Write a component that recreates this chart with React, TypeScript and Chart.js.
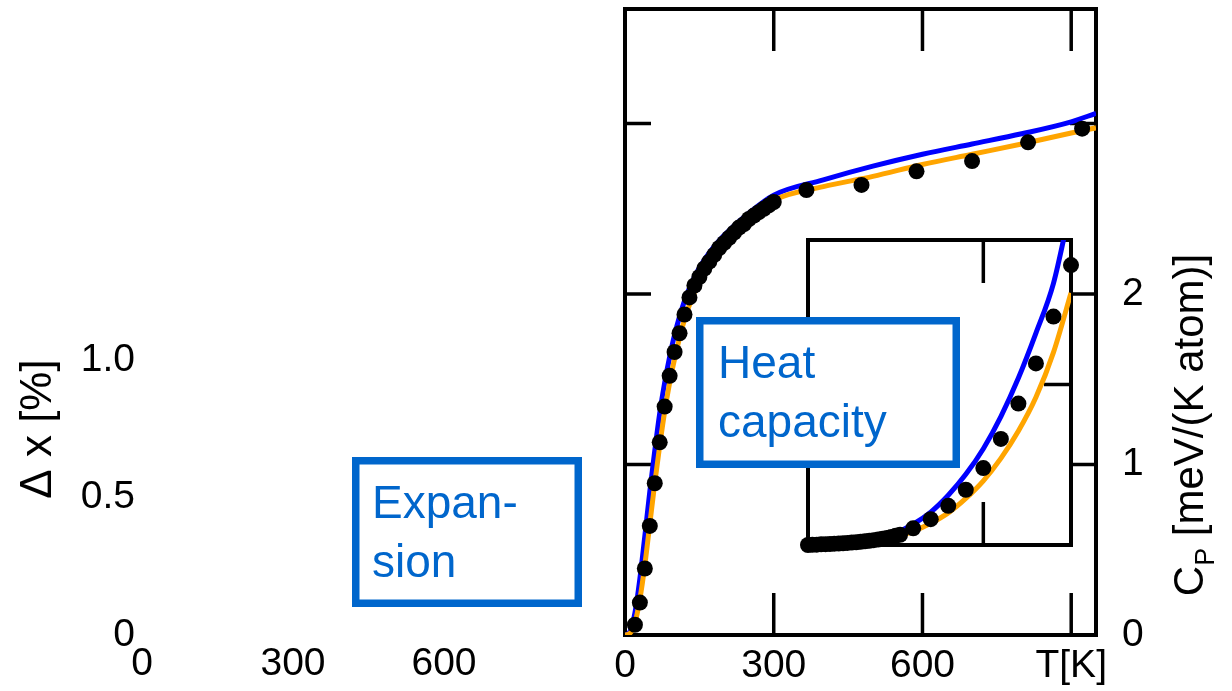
import React, { useEffect, useRef } from "react";
import { Chart, registerables } from "chart.js";

Chart.register(...registerables);

const W = 1232;
const H = 691;
const FONT = "'Liberation Sans', Arial, sans-serif";
const BOX_BLUE = "#0066CC";

// ---------------- Expansion panel (only its axis labels are shown) ----------------
const expansionXTicks = [0, 300, 600];
const expansionXLabels = ["0", "300", "600"];
const expansionYTicks = [0, 0.5, 1.0];
const expansionYLabels = ["0", "0.5", "1.0"];
const expansionTitle = "\u0394 x [%]";
const expansionBoxLines = ["Expan-", "sion"];

// ---------------- Heat capacity main panel ----------------
const heatXTicks = [0, 300, 600, 900];
const heatXLabels = ["0", "300", "600", "T[K]"];
const heatYTicks = [0, 1, 2, 3];
const heatYLabels = ["0", "1", "2", ""];
const heatBoxLines = ["Heat", "capacity"];

const measuredT = [20, 30, 40, 50, 60, 70, 80, 90, 100, 110, 120, 130, 140, 150, 160, 170, 180, 190, 200, 210, 220, 230, 240, 250, 260, 270, 280, 290, 300, 366, 477, 588, 700, 813, 922];
const measuredCp = [0.06, 0.19, 0.39, 0.64, 0.89, 1.13, 1.34, 1.52, 1.66, 1.77, 1.88, 1.98, 2.05, 2.10, 2.15, 2.19, 2.23, 2.27, 2.30, 2.33, 2.36, 2.39, 2.41, 2.44, 2.46, 2.48, 2.50, 2.52, 2.54, 2.61, 2.64, 2.72, 2.78, 2.89, 2.97];

const blueT = [0, 10, 20, 30, 40, 50, 60, 70, 80, 90, 100, 120, 140, 160, 180, 200, 250, 300, 400, 500, 600, 700, 800, 900, 950];
const blueCp = [0, 0.02, 0.13, 0.33, 0.58, 0.84, 1.08, 1.30, 1.48, 1.63, 1.76, 1.96, 2.10, 2.20, 2.28, 2.345, 2.475, 2.58, 2.67, 2.75, 2.82, 2.88, 2.94, 3.01, 3.06];

const orangeT = [0, 10, 20, 30, 40, 50, 60, 70, 80, 90, 100, 120, 140, 160, 180, 200, 250, 300, 400, 500, 600, 700, 800, 900, 950];
const orangeCp = [0, 0.01, 0.07, 0.21, 0.41, 0.65, 0.89, 1.11, 1.31, 1.48, 1.62, 1.85, 2.01, 2.13, 2.22, 2.30, 2.44, 2.55, 2.63, 2.69, 2.76, 2.82, 2.88, 2.945, 2.975];

const cpTitleMain = "C";
const cpTitleSub = "P";
const cpTitleRest = " [meV/(K atom)]";

// ---------------- Inset (low temperature) ----------------
const insetXTicks = [20];
const insetYTicks = [0.1];
const insetMeasuredT = [0, 0.5, 1, 1.5, 2, 2.5, 3, 3.5, 4, 4.5, 5, 5.5, 6, 6.5, 7, 7.5, 8, 8.5, 9, 9.5, 10, 10.5, 12, 14, 16, 18, 20, 22, 24, 26, 28, 30];
const insetMeasuredCp = [0, 0.0001, 0.0002, 0.0004, 0.0005, 0.0006, 0.0008, 0.0009, 0.0011, 0.0013, 0.0015, 0.0017, 0.0020, 0.0023, 0.0026, 0.0030, 0.0034, 0.0039, 0.0044, 0.0050, 0.0057, 0.0064, 0.0104, 0.0161, 0.0244, 0.0344, 0.0479, 0.0661, 0.0881, 0.1131, 0.1423, 0.1744];
const insetBlueT = [0, 4, 8, 10, 12, 14, 16, 18, 20, 22, 24, 26, 28, 30];
const insetBlueCp = [0, 0.0012, 0.0045, 0.0075, 0.0130, 0.0205, 0.031, 0.044, 0.060, 0.080, 0.104, 0.132, 0.163, 0.212];
const insetOrangeT = [0, 4, 8, 10, 12, 14, 16, 18, 20, 22, 24, 26, 28, 30];
const insetOrangeCp = [0, 0.0008, 0.0030, 0.0050, 0.0085, 0.0135, 0.020, 0.029, 0.040, 0.054, 0.071, 0.092, 0.120, 0.157];

const pts = (xs: number[], ys: number[]) => xs.map((x, i) => ({ x, y: ys[i] }));

const zeroPad = (s: any) => {
  s.paddingTop = 0;
  s.paddingBottom = 0;
  s.paddingLeft = 0;
  s.paddingRight = 0;
};

const framePlugin = {
  id: "frame",
  beforeDatasetsDraw(chart: any, _args: any, opts: any) {
    if (!opts || !opts.enabled) return;
    const { ctx, chartArea: a, scales } = chart;
    ctx.save();
    ctx.strokeStyle = "#000";
    ctx.lineWidth = opts.lineWidth;
    ctx.strokeRect(a.left, a.top, a.right - a.left, a.bottom - a.top);
    ctx.lineWidth = opts.tickWidth;
    ctx.beginPath();
    for (const v of opts.xTicks) {
      const px = scales.x.getPixelForValue(v);
      ctx.moveTo(px, a.bottom);
      ctx.lineTo(px, a.bottom - opts.xLen);
      ctx.moveTo(px, a.top);
      ctx.lineTo(px, a.top + opts.xLen);
    }
    for (const v of opts.yTicks) {
      const py = scales.y.getPixelForValue(v);
      ctx.moveTo(a.left, py);
      ctx.lineTo(a.left + opts.yLen, py);
      ctx.moveTo(a.right, py);
      ctx.lineTo(a.right - opts.yLen, py);
    }
    ctx.stroke();
    ctx.restore();
  },
};

function drawTextBox(ctx: any, x: number, y: number, w: number, h: number, lines: string[], tx: number, ty: number, lh: number) {
  const bw = 7.5;
  ctx.save();
  ctx.fillStyle = "#fff";
  ctx.fillRect(x, y, w, h);
  ctx.strokeStyle = BOX_BLUE;
  ctx.lineWidth = bw;
  ctx.strokeRect(x + bw / 2, y + bw / 2, w - bw, h - bw);
  ctx.fillStyle = BOX_BLUE;
  ctx.font = `46px ${FONT}`;
  ctx.textAlign = "left";
  ctx.textBaseline = "alphabetic";
  lines.forEach((l, i) => ctx.fillText(l, tx, ty + i * lh));
  ctx.restore();
}

const tickFont = { size: 39, family: FONT };

export default function App() {
  const leftRef = useRef<HTMLCanvasElement>(null);
  const mainRef = useRef<HTMLCanvasElement>(null);
  const insetRef = useRef<HTMLCanvasElement>(null);

  useEffect(() => {
    document.body.style.margin = "0";
    Chart.defaults.font.family = FONT;

    const leftTitle = {
      id: "leftTitle",
      afterDraw(chart: any) {
        const ctx = chart.ctx;
        ctx.save();
        ctx.translate(51, 429);
        ctx.rotate(-Math.PI / 2);
        ctx.fillStyle = "#000";
        ctx.font = `44px ${FONT}`;
        ctx.textAlign = "center";
        ctx.textBaseline = "alphabetic";
        ctx.fillText(expansionTitle, 0, 0);
        ctx.restore();
      },
    };

    const left = new Chart(leftRef.current as HTMLCanvasElement, {
      type: "scatter",
      data: { datasets: [] },
      options: {
        responsive: false,
        animation: false,
        events: [],
        layout: { padding: { left: 0, top: 305, right: 637, bottom: 0 } },
        plugins: { legend: { display: false }, tooltip: { enabled: false } },
        scales: {
          x: {
            type: "linear",
            min: 0,
            max: 900,
            grid: { display: false, drawTicks: false },
            border: { display: false },
            afterBuildTicks: (s: any) => {
              s.ticks = expansionXTicks.map((v) => ({ value: v }));
            },
            afterFit: (s: any) => {
              s.height = 56;
              zeroPad(s);
            },
            ticks: {
              font: tickFont,
              color: "#000",
              padding: 6,
              autoSkip: false,
              maxRotation: 0,
              callback: (v: any) => expansionXLabels[expansionXTicks.indexOf(Number(v))],
            },
          },
          y: {
            type: "linear",
            min: 0,
            max: 1.2,
            position: "left",
            grid: { display: false, drawTicks: false },
            border: { display: false },
            afterBuildTicks: (s: any) => {
              s.ticks = expansionYTicks.map((v) => ({ value: v }));
            },
            afterFit: (s: any) => {
              s.width = 142;
              zeroPad(s);
            },
            ticks: {
              font: tickFont,
              color: "#000",
              padding: 7,
              autoSkip: false,
              callback: (v: any) => expansionYLabels[expansionYTicks.indexOf(Number(v))],
            },
          },
        },
      } as any,
      plugins: [leftTitle],
    });

    const cpTitle = {
      id: "cpTitle",
      afterDraw(chart: any) {
        const ctx = chart.ctx;
        ctx.save();
        ctx.translate(1203, 425);
        ctx.rotate(-Math.PI / 2);
        ctx.fillStyle = "#000";
        ctx.textBaseline = "alphabetic";
        ctx.textAlign = "left";
        const big = `42px ${FONT}`;
        const small = `27px ${FONT}`;
        ctx.font = big;
        const wC = ctx.measureText(cpTitleMain).width;
        const wR = ctx.measureText(cpTitleRest).width;
        ctx.font = small;
        const wP = ctx.measureText(cpTitleSub).width;
        let x = -(wC + wP + wR) / 2;
        ctx.font = big;
        ctx.fillText(cpTitleMain, x, 0);
        x += wC;
        ctx.font = small;
        ctx.fillText(cpTitleSub, x, 11);
        x += wP;
        ctx.font = big;
        ctx.fillText(cpTitleRest, x, 0);
        ctx.restore();
      },
    };

    const main = new Chart(mainRef.current as HTMLCanvasElement, {
      type: "scatter",
      data: {
        datasets: [
          {
            label: "measured",
            data: pts(measuredT, measuredCp),
            showLine: false,
            pointRadius: 8,
            pointBackgroundColor: "#000",
            pointBorderColor: "#000",
            pointBorderWidth: 0,
            clip: false,
          },
          {
            label: "orange",
            data: pts(orangeT, orangeCp),
            showLine: true,
            borderColor: "#FFA500",
            borderWidth: 5,
            pointRadius: 0,
            cubicInterpolationMode: "monotone",
            fill: false,
          },
          {
            label: "blue",
            data: pts(blueT, blueCp),
            showLine: true,
            borderColor: "#0000FF",
            borderWidth: 5,
            pointRadius: 0,
            cubicInterpolationMode: "monotone",
            fill: false,
          },
        ],
      },
      options: {
        responsive: false,
        animation: false,
        events: [],
        layout: { padding: { left: 625, top: 9, right: 0, bottom: 0 } },
        plugins: {
          legend: { display: false },
          tooltip: { enabled: false },
          frame: { enabled: true, lineWidth: 4, tickWidth: 3.5, xTicks: heatXTicks.slice(1), yTicks: heatYTicks.slice(1), xLen: 42, yLen: 26 },
        },
        scales: {
          x: {
            type: "linear",
            min: 0,
            max: 950,
            grid: { display: false, drawTicks: false },
            border: { display: false },
            afterBuildTicks: (s: any) => {
              s.ticks = heatXTicks.map((v) => ({ value: v }));
            },
            afterFit: (s: any) => {
              s.height = 56;
              zeroPad(s);
            },
            ticks: {
              font: tickFont,
              color: "#000",
              padding: 8,
              autoSkip: false,
              maxRotation: 0,
              callback: (v: any) => heatXLabels[heatXTicks.indexOf(Number(v))],
            },
          },
          y: {
            type: "linear",
            min: 0,
            max: 3.672,
            position: "right",
            grid: { display: false, drawTicks: false },
            border: { display: false },
            afterBuildTicks: (s: any) => {
              s.ticks = heatYTicks.map((v) => ({ value: v }));
            },
            afterFit: (s: any) => {
              s.width = 136;
              zeroPad(s);
            },
            ticks: {
              font: tickFont,
              color: "#000",
              padding: 26,
              autoSkip: false,
              callback: (v: any) => heatYLabels[heatYTicks.indexOf(Number(v))],
            },
          },
        },
      } as any,
      plugins: [framePlugin, cpTitle],
    });

    const annotations = {
      id: "annotations",
      afterDraw(chart: any) {
        const ctx = chart.ctx;
        drawTextBox(ctx, 352, 457, 230, 150, expansionBoxLines, 372, 518, 59);
        drawTextBox(ctx, 696, 317, 264, 151, heatBoxLines, 718, 378, 59);
      },
    };

    const inset = new Chart(insetRef.current as HTMLCanvasElement, {
      type: "scatter",
      data: {
        datasets: [
          {
            label: "measured",
            data: pts(insetMeasuredT, insetMeasuredCp),
            showLine: false,
            pointRadius: 8,
            pointBackgroundColor: "#000",
            pointBorderColor: "#000",
            pointBorderWidth: 0,
            clip: false,
          },
          {
            label: "orange",
            data: pts(insetOrangeT, insetOrangeCp),
            showLine: true,
            borderColor: "#FFA500",
            borderWidth: 5,
            pointRadius: 0,
            cubicInterpolationMode: "monotone",
            fill: false,
          },
          {
            label: "blue",
            data: pts(insetBlueT, insetBlueCp),
            showLine: true,
            borderColor: "#0000FF",
            borderWidth: 5,
            pointRadius: 0,
            cubicInterpolationMode: "monotone",
            fill: false,
          },
        ],
      },
      options: {
        responsive: false,
        animation: false,
        events: [],
        layout: { padding: { left: 808, top: 240, right: W - 1071, bottom: H - 545 } },
        plugins: {
          legend: { display: false },
          tooltip: { enabled: false },
          frame: { enabled: true, lineWidth: 4, tickWidth: 3.5, xTicks: insetXTicks, yTicks: insetYTicks, xLen: 43, yLen: 27 },
        },
        scales: {
          x: { type: "linear", min: 0, max: 30, display: false },
          y: { type: "linear", min: 0, max: 0.19, display: false },
        },
      } as any,
      plugins: [framePlugin, annotations],
    });

    return () => {
      left.destroy();
      main.destroy();
      inset.destroy();
    };
  }, []);

  const cs: React.CSSProperties = { position: "absolute", left: 0, top: 0 };
  return (
    <div style={{ position: "relative", width: W, height: H, background: "#fff" }}>
      <canvas ref={leftRef} width={W} height={H} style={cs} />
      <canvas ref={mainRef} width={W} height={H} style={cs} />
      <canvas ref={insetRef} width={W} height={H} style={cs} />
    </div>
  );
}
